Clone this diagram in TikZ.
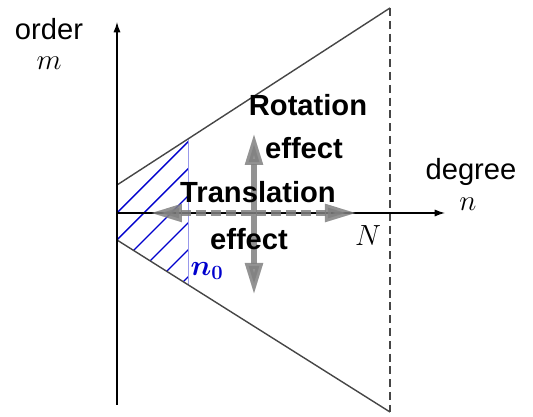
\documentclass[tikz,border=0pt]{standalone}
\usepackage{fontspec}
\setmainfont{Liberation Sans}
\usepackage{bm}
\usetikzlibrary{arrows.meta,positioning}
\definecolor{edgegray}{RGB}{70,70,70}
\definecolor{hatchblue}{RGB}{0,0,205}

\begin{document}
\begin{tikzpicture}[
  axis/.style={-{Latex[length=2.6mm,width=1.8mm]}, line width=0.9pt},
  bound/.style={draw=edgegray, line width=1pt},
  effect/.style={draw=gray, fill=gray, opacity=0.85, line width=4.2pt, {Triangle[length=0.8cm,width=0.42cm]}-{Triangle[length=0.8cm,width=0.42cm]}},
  lbl/.style={font=\huge, inner sep=0pt},
  hatch/.style={draw=hatchblue, line width=1pt}
]
\useasboundingbox (-2.925,-5.1) rectangle (10.4,5.325);

% corners of the wedge
\coordinate (O) at (0,0);
\coordinate (topL) at (0,0.7);
\coordinate (topR) at (6.825,5.125);
\coordinate (botL) at (0,-0.675);
\coordinate (botR) at (6.825,-4.975);
\coordinate (n0top) at (1.775,1.851);
\coordinate (n0bot) at (1.775,-1.793);

% hatched band up to n0
\begin{scope}
  \clip (topL) -- (n0top) -- (n0bot) -- (botL) -- cycle;
  \foreach \i in {-5,...,0}
    \draw[hatch] (0,{0.675*\i}) -- ++(2.6,2.6);
\end{scope}
\draw[draw=hatchblue!40, line width=0.7pt] (n0top) -- (n0bot);

\draw[bound] (topL) -- (topR);
\draw[bound] (botL) -- (botR);
\draw[edgegray, line width=1pt, dash pattern=on 0.2cm off 0.12cm] (topR) -- (botR);

% axes
\coordinate (mbot) at (0,-4.8);
\coordinate (mtop) at (0,4.775);
\coordinate (nend) at (8.2,0);
\draw[axis] (mbot) -- (mtop);
\draw[axis] (O) -- (nend);

% effects
\coordinate (tl) at (0.825,0);
\coordinate (tr) at (6.0,0);
\coordinate (rt) at (3.425,2.0);
\coordinate (rb) at (3.425,-2.05);
\draw[effect, dash pattern=on 0.25cm off 0.125cm] (tl) -- (tr);
\draw[effect] (rb) -- (rt);

% labels
\node[lbl] (order) at (-1.7,4.6) {order};
\node[lbl, below=0.42cm of order] (m) {$m$};
\node[lbl] (degree) at (8.85,1.025) {degree};
\node[lbl, below=0.3cm of degree, xshift=-0.08cm] (n) {$n$};
\node[lbl, font=\huge\bfseries] (rot) at (4.775,2.7) {Rotation};
\node[lbl, font=\huge\bfseries] (roteff) at (4.675,1.625) {effect};
\node[lbl, font=\huge\bfseries] (trans) at (3.525,0.525) {Translation};
\node[lbl, font=\huge\bfseries] (transeff) at (3.3,-0.65) {effect};
\node[lbl] (N) at (6.275,-0.575) {$N$};
\node[lbl, text=hatchblue] (n0) at (2.25,-1.45) {$\bm{n_0}$};
\end{tikzpicture}
\end{document}
